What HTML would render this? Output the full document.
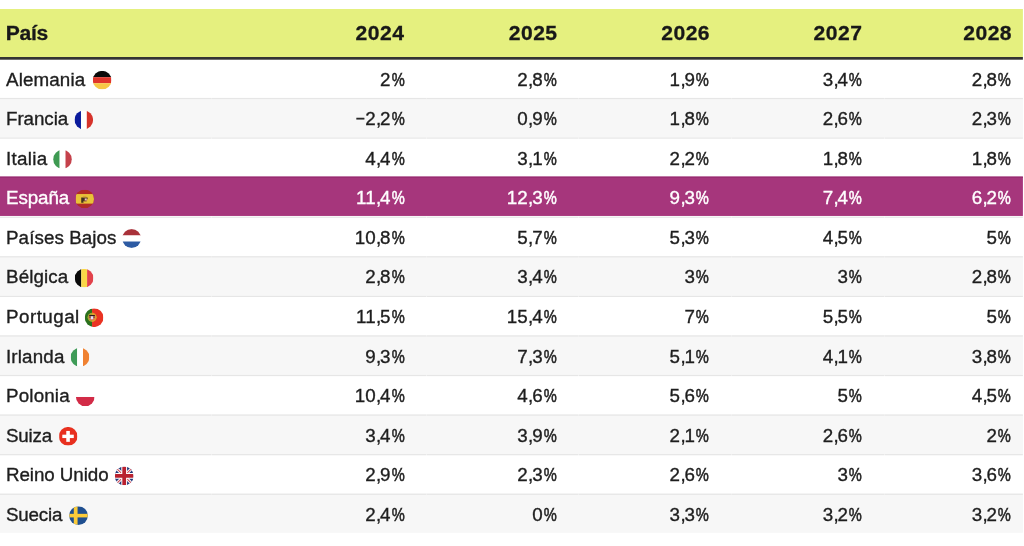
<!DOCTYPE html>
<html lang="es">
<head>
<meta charset="utf-8">
<title>Tabla</title>
<style>
html,body{margin:0;padding:0;background:#fff;}
body{width:1024px;height:546px;position:relative;overflow:hidden;font-family:"Liberation Sans",sans-serif;color:#1e1e1e;}
#bg{position:absolute;left:0;top:0;width:1024px;height:546px;display:block;}
.r,.h{position:absolute;left:0;width:1024px;white-space:nowrap;will-change:transform;}
.r{height:39.575px;line-height:39.575px;font-size:18.8px;-webkit-text-stroke:0.35px currentColor;}
.h{height:48px;line-height:48px;font-size:21.1px;font-weight:bold;color:#181818;-webkit-text-stroke:0.3px currentColor;}
.n{position:absolute;left:6.0px;top:0;}
.h .n{left:5.8px;letter-spacing:-0.33px;}
.h .v{letter-spacing:0.45px;margin-right:-0.45px;}
.v{position:absolute;top:0;text-align:right;}
.hi{color:#fff;}
.f{position:absolute;top:11.39px;width:18.8px;height:18.8px;display:block;}
.p{display:inline-block;-webkit-text-stroke:0.55px currentColor;transform:scaleX(.78);transform-origin:100% 50%;margin-left:-.15em;}
.c{letter-spacing:-.06em;margin-left:.02em;}
.m{display:inline-block;transform:scaleX(.84);transform-origin:100% 50%;margin-left:-.05em;}
</style>
</head>
<body>
<svg id="bg" viewBox="0 0 1024 546">
<rect x="0" y="9" width="1022.9" height="48.3" fill="#E5F07F"/>
<rect x="0" y="57" width="1022.9" height="2.7" fill="#333333"/>
<rect x="0" y="97.90" width="1022.9" height="39.58" fill="#F7F7F7"/>
<rect x="0.00" y="97.90" width="211.10" height="1.2" fill="#E6E6E6"/>
<rect x="211.40" y="97.90" width="214.95" height="1.2" fill="#E6E6E6"/>
<rect x="426.65" y="97.90" width="151.80" height="1.2" fill="#E6E6E6"/>
<rect x="578.75" y="97.90" width="152.30" height="1.2" fill="#E6E6E6"/>
<rect x="731.35" y="97.90" width="152.80" height="1.2" fill="#E6E6E6"/>
<rect x="884.45" y="97.90" width="138.45" height="1.2" fill="#E6E6E6"/>
<rect x="0.00" y="137.47" width="211.10" height="1.2" fill="#E6E6E6"/>
<rect x="211.40" y="137.47" width="214.95" height="1.2" fill="#E6E6E6"/>
<rect x="426.65" y="137.47" width="151.80" height="1.2" fill="#E6E6E6"/>
<rect x="578.75" y="137.47" width="152.30" height="1.2" fill="#E6E6E6"/>
<rect x="731.35" y="137.47" width="152.80" height="1.2" fill="#E6E6E6"/>
<rect x="884.45" y="137.47" width="138.45" height="1.2" fill="#E6E6E6"/>
<rect x="0" y="176.6" width="1022.9" height="39.35" fill="#A6367C"/>
<rect x="0" y="176.6" width="1022.9" height="1.3" fill="#982C70"/>
<rect x="0.00" y="216.62" width="211.10" height="1.2" fill="#E6E6E6"/>
<rect x="211.40" y="216.62" width="214.95" height="1.2" fill="#E6E6E6"/>
<rect x="426.65" y="216.62" width="151.80" height="1.2" fill="#E6E6E6"/>
<rect x="578.75" y="216.62" width="152.30" height="1.2" fill="#E6E6E6"/>
<rect x="731.35" y="216.62" width="152.80" height="1.2" fill="#E6E6E6"/>
<rect x="884.45" y="216.62" width="138.45" height="1.2" fill="#E6E6E6"/>
<rect x="0" y="256.20" width="1022.9" height="39.57" fill="#F7F7F7"/>
<rect x="0.00" y="256.20" width="211.10" height="1.2" fill="#E6E6E6"/>
<rect x="211.40" y="256.20" width="214.95" height="1.2" fill="#E6E6E6"/>
<rect x="426.65" y="256.20" width="151.80" height="1.2" fill="#E6E6E6"/>
<rect x="578.75" y="256.20" width="152.30" height="1.2" fill="#E6E6E6"/>
<rect x="731.35" y="256.20" width="152.80" height="1.2" fill="#E6E6E6"/>
<rect x="884.45" y="256.20" width="138.45" height="1.2" fill="#E6E6E6"/>
<rect x="0.00" y="295.78" width="211.10" height="1.2" fill="#E6E6E6"/>
<rect x="211.40" y="295.78" width="214.95" height="1.2" fill="#E6E6E6"/>
<rect x="426.65" y="295.78" width="151.80" height="1.2" fill="#E6E6E6"/>
<rect x="578.75" y="295.78" width="152.30" height="1.2" fill="#E6E6E6"/>
<rect x="731.35" y="295.78" width="152.80" height="1.2" fill="#E6E6E6"/>
<rect x="884.45" y="295.78" width="138.45" height="1.2" fill="#E6E6E6"/>
<rect x="0" y="335.35" width="1022.9" height="39.58" fill="#F7F7F7"/>
<rect x="0.00" y="335.35" width="211.10" height="1.2" fill="#E6E6E6"/>
<rect x="211.40" y="335.35" width="214.95" height="1.2" fill="#E6E6E6"/>
<rect x="426.65" y="335.35" width="151.80" height="1.2" fill="#E6E6E6"/>
<rect x="578.75" y="335.35" width="152.30" height="1.2" fill="#E6E6E6"/>
<rect x="731.35" y="335.35" width="152.80" height="1.2" fill="#E6E6E6"/>
<rect x="884.45" y="335.35" width="138.45" height="1.2" fill="#E6E6E6"/>
<rect x="0.00" y="374.93" width="211.10" height="1.2" fill="#E6E6E6"/>
<rect x="211.40" y="374.93" width="214.95" height="1.2" fill="#E6E6E6"/>
<rect x="426.65" y="374.93" width="151.80" height="1.2" fill="#E6E6E6"/>
<rect x="578.75" y="374.93" width="152.30" height="1.2" fill="#E6E6E6"/>
<rect x="731.35" y="374.93" width="152.80" height="1.2" fill="#E6E6E6"/>
<rect x="884.45" y="374.93" width="138.45" height="1.2" fill="#E6E6E6"/>
<rect x="0" y="414.50" width="1022.9" height="39.58" fill="#F7F7F7"/>
<rect x="0.00" y="414.50" width="211.10" height="1.2" fill="#E6E6E6"/>
<rect x="211.40" y="414.50" width="214.95" height="1.2" fill="#E6E6E6"/>
<rect x="426.65" y="414.50" width="151.80" height="1.2" fill="#E6E6E6"/>
<rect x="578.75" y="414.50" width="152.30" height="1.2" fill="#E6E6E6"/>
<rect x="731.35" y="414.50" width="152.80" height="1.2" fill="#E6E6E6"/>
<rect x="884.45" y="414.50" width="138.45" height="1.2" fill="#E6E6E6"/>
<rect x="0.00" y="454.07" width="211.10" height="1.2" fill="#E6E6E6"/>
<rect x="211.40" y="454.07" width="214.95" height="1.2" fill="#E6E6E6"/>
<rect x="426.65" y="454.07" width="151.80" height="1.2" fill="#E6E6E6"/>
<rect x="578.75" y="454.07" width="152.30" height="1.2" fill="#E6E6E6"/>
<rect x="731.35" y="454.07" width="152.80" height="1.2" fill="#E6E6E6"/>
<rect x="884.45" y="454.07" width="138.45" height="1.2" fill="#E6E6E6"/>
<rect x="0" y="493.65" width="1022.9" height="39.15" fill="#F7F7F7"/>
<rect x="0.00" y="493.65" width="211.10" height="1.2" fill="#E6E6E6"/>
<rect x="211.40" y="493.65" width="214.95" height="1.2" fill="#E6E6E6"/>
<rect x="426.65" y="493.65" width="151.80" height="1.2" fill="#E6E6E6"/>
<rect x="578.75" y="493.65" width="152.30" height="1.2" fill="#E6E6E6"/>
<rect x="731.35" y="493.65" width="152.80" height="1.2" fill="#E6E6E6"/>
<rect x="884.45" y="493.65" width="138.45" height="1.2" fill="#E6E6E6"/>
<svg x="92.75" y="70.80" width="18.8" height="18.8" viewBox="0 0 100 100"><defs><clipPath id="c-de"><circle cx="50" cy="50" r="50"/></clipPath></defs><g clip-path="url(#c-de)"><rect width="100" height="34" fill="#0a0a0a"/><rect y="34" width="100" height="32" fill="#E0352B"/><rect y="66" width="100" height="34" fill="#F7C845"/></g></svg>
<svg x="74.40" y="110.38" width="18.8" height="18.8" viewBox="0 0 100 100"><defs><clipPath id="c-fr"><circle cx="50" cy="50" r="50"/></clipPath></defs><g clip-path="url(#c-fr)"><rect width="35" height="100" fill="#0B1B9C"/><rect x="35" width="31" height="100" fill="#fff"/><rect x="66" width="34" height="100" fill="#D6332B"/></g></svg>
<svg x="53.10" y="149.95" width="18.8" height="18.8" viewBox="0 0 100 100"><defs><clipPath id="c-it"><circle cx="50" cy="50" r="50"/></clipPath></defs><g clip-path="url(#c-it)"><rect width="35" height="100" fill="#3E9A52"/><rect x="35" width="31" height="100" fill="#fff"/><rect x="66" width="34" height="100" fill="#C5414B"/></g></svg>
<svg x="75.20" y="189.53" width="18.8" height="18.8" viewBox="0 0 100 100"><defs><clipPath id="c-es"><circle cx="50" cy="50" r="50"/></clipPath><clipPath id="k-es"><rect x="2.5" y="0" width="100" height="100"/></clipPath></defs><g clip-path="url(#c-es)"><g clip-path="url(#k-es)"><rect width="100" height="100" fill="#B12B27"/><rect y="24" width="100" height="51" fill="#E8C238"/><path d="M32 43h34v9h-7v11H44v7H32z" fill="#33261c" opacity=".92"/><rect x="50" y="47" width="13" height="13" fill="#c9857a"/><rect x="53" y="49" width="6" height="6" fill="#e8dfe6"/><rect x="41" y="34" width="18" height="7" fill="#d89a3a" opacity=".8"/><rect x="44" y="60" width="18" height="6" fill="#b98a3a" opacity=".6"/></g></g></svg>
<svg x="122.20" y="229.10" width="18.8" height="18.8" viewBox="0 0 100 100"><defs><clipPath id="c-nl"><circle cx="50" cy="50" r="50"/></clipPath></defs><g clip-path="url(#c-nl)"><rect width="100" height="34" fill="#A9323A"/><rect y="34" width="100" height="32" fill="#fff"/><rect y="66" width="100" height="34" fill="#2D5BA3"/></g></svg>
<svg x="74.70" y="268.68" width="18.8" height="18.8" viewBox="0 0 100 100"><defs><clipPath id="c-be"><circle cx="50" cy="50" r="50"/></clipPath></defs><g clip-path="url(#c-be)"><rect width="35" height="100" fill="#0a0a0a"/><rect x="35" width="31" height="100" fill="#FAD748"/><rect x="66" width="34" height="100" fill="#E2424B"/></g></svg>
<svg x="84.70" y="308.25" width="18.8" height="18.8" viewBox="0 0 100 100"><defs><clipPath id="c-pt"><circle cx="50" cy="50" r="50"/></clipPath></defs><g clip-path="url(#c-pt)"><rect width="39" height="100" fill="#2B711D"/><rect x="39" width="61" height="100" fill="#EA3323"/><circle cx="39" cy="48.5" r="24" fill="#A8A22E"/><path d="M39 24.5a24 24 0 0 1 0 48z" fill="#E39A2A"/><path d="M24 36h30v20q-15 16-30 0z" fill="#d9705f"/><rect x="24" y="36" width="30" height="6.5" fill="#2a1a1a"/><rect x="24" y="45.5" width="30" height="4" fill="#5a2a2a"/><path d="M32.5 42.5h12.5v13q-6.2 6-12.5 0z" fill="#dfe3f6"/></g></svg>
<svg x="70.60" y="347.83" width="18.8" height="18.8" viewBox="0 0 100 100"><defs><clipPath id="c-ie"><circle cx="50" cy="50" r="50"/></clipPath></defs><g clip-path="url(#c-ie)"><rect width="35" height="100" fill="#3F9B57"/><rect x="35" width="31" height="100" fill="#fff"/><rect x="66" width="34" height="100" fill="#F08232"/></g></svg>
<svg x="75.90" y="387.40" width="18.8" height="18.8" viewBox="0 0 100 100"><defs><clipPath id="c-pl"><circle cx="50" cy="50" r="50"/></clipPath></defs><g clip-path="url(#c-pl)"><rect width="100" height="51" fill="#fff"/><rect y="51" width="100" height="49" fill="#D22B47"/></g></svg>
<svg x="58.75" y="426.98" width="18.8" height="18.8" viewBox="0 0 100 100"><defs><clipPath id="c-ch"><circle cx="50" cy="50" r="50"/></clipPath><clipPath id="k-ch"><rect x="2.5" y="0" width="100" height="100"/></clipPath></defs><g clip-path="url(#c-ch)"><g clip-path="url(#k-ch)"><rect width="100" height="100" fill="#E8301F"/><rect x="40" y="21" width="19" height="58" fill="#fff"/><rect x="19" y="41" width="61" height="18" fill="#fff"/></g></g></svg>
<svg x="114.80" y="466.55" width="18.8" height="18.8" viewBox="0 0 100 100"><defs><clipPath id="c-gb"><circle cx="50" cy="50" r="50"/></clipPath></defs><g clip-path="url(#c-gb)"><rect width="100" height="100" fill="#213879"/><path d="M0 0L100 100M100 0L0 100" stroke="#fff" stroke-width="16"/><path d="M0 0L100 100M100 0L0 100" stroke="#CF4A55" stroke-width="6"/><path d="M50 0V100M0 50H100" stroke="#fff" stroke-width="31"/><path d="M50 0V100M0 50H100" stroke="#B9212F" stroke-width="20"/></g></svg>
<svg x="69.10" y="506.13" width="18.8" height="18.8" viewBox="0 0 100 100"><defs><clipPath id="c-se"><circle cx="50" cy="50" r="50"/></clipPath></defs><g clip-path="url(#c-se)"><rect width="100" height="100" fill="#1F4F90"/><rect x="25" width="20" height="100" fill="#FBCB3A"/><rect y="41" width="100" height="19" fill="#FBCB3A"/></g></svg>
</svg>
<div class="h" style="top:9.00px"><span class="n">País</span><span class="v" style="right:620.10px">2024</span><span class="v" style="right:466.90px">2025</span><span class="v" style="right:314.40px">2026</span><span class="v" style="right:162.10px">2027</span><span class="v" style="right:12.40px">2028</span></div>
<div class="r" style="top:60px"><span class="n" style="letter-spacing:0.121px">Alemania</span><span class="v" style="right:619.60px">2<span class="p">%</span></span><span class="v" style="right:467.50px">2<span class="c">,</span>8<span class="p">%</span></span><span class="v" style="right:315.20px">1<span class="c">,</span>9<span class="p">%</span></span><span class="v" style="right:162.10px">3<span class="c">,</span>4<span class="p">%</span></span><span class="v" style="right:13.10px">2<span class="c">,</span>8<span class="p">%</span></span></div>
<div class="r" style="top:99px"><span class="n" style="letter-spacing:-0.067px">Francia</span><span class="v" style="right:619.60px"><span class="m">−</span>2<span class="c">,</span>2<span class="p">%</span></span><span class="v" style="right:467.50px">0<span class="c">,</span>9<span class="p">%</span></span><span class="v" style="right:315.20px">1<span class="c">,</span>8<span class="p">%</span></span><span class="v" style="right:162.10px">2<span class="c">,</span>6<span class="p">%</span></span><span class="v" style="right:13.10px">2<span class="c">,</span>3<span class="p">%</span></span></div>
<div class="r" style="top:139px"><span class="n" style="letter-spacing:0.290px">Italia</span><span class="v" style="right:619.60px">4<span class="c">,</span>4<span class="p">%</span></span><span class="v" style="right:467.50px">3<span class="c">,</span>1<span class="p">%</span></span><span class="v" style="right:315.20px">2<span class="c">,</span>2<span class="p">%</span></span><span class="v" style="right:162.10px">1<span class="c">,</span>8<span class="p">%</span></span><span class="v" style="right:13.10px">1<span class="c">,</span>8<span class="p">%</span></span></div>
<div class="r hi" style="top:178px"><span class="n" style="letter-spacing:-0.080px">España</span><span class="v" style="right:619.60px">11<span class="c">,</span>4<span class="p">%</span></span><span class="v" style="right:467.50px">12<span class="c">,</span>3<span class="p">%</span></span><span class="v" style="right:315.20px">9<span class="c">,</span>3<span class="p">%</span></span><span class="v" style="right:162.10px">7<span class="c">,</span>4<span class="p">%</span></span><span class="v" style="right:13.10px">6<span class="c">,</span>2<span class="p">%</span></span></div>
<div class="r" style="top:218px"><span class="n" style="letter-spacing:0.077px">Países Bajos</span><span class="v" style="right:619.60px">10<span class="c">,</span>8<span class="p">%</span></span><span class="v" style="right:467.50px">5<span class="c">,</span>7<span class="p">%</span></span><span class="v" style="right:315.20px">5<span class="c">,</span>3<span class="p">%</span></span><span class="v" style="right:162.10px">4<span class="c">,</span>5<span class="p">%</span></span><span class="v" style="right:13.10px">5<span class="p">%</span></span></div>
<div class="r" style="top:257px"><span class="n" style="letter-spacing:0.100px">Bélgica</span><span class="v" style="right:619.60px">2<span class="c">,</span>8<span class="p">%</span></span><span class="v" style="right:467.50px">3<span class="c">,</span>4<span class="p">%</span></span><span class="v" style="right:315.20px">3<span class="p">%</span></span><span class="v" style="right:162.10px">3<span class="p">%</span></span><span class="v" style="right:13.10px">2<span class="c">,</span>8<span class="p">%</span></span></div>
<div class="r" style="top:297px"><span class="n" style="letter-spacing:0.471px">Portugal</span><span class="v" style="right:619.60px">11<span class="c">,</span>5<span class="p">%</span></span><span class="v" style="right:467.50px">15<span class="c">,</span>4<span class="p">%</span></span><span class="v" style="right:315.20px">7<span class="p">%</span></span><span class="v" style="right:162.10px">5<span class="c">,</span>5<span class="p">%</span></span><span class="v" style="right:13.10px">5<span class="p">%</span></span></div>
<div class="r" style="top:337px"><span class="n" style="letter-spacing:0.150px">Irlanda</span><span class="v" style="right:619.60px">9<span class="c">,</span>3<span class="p">%</span></span><span class="v" style="right:467.50px">7<span class="c">,</span>3<span class="p">%</span></span><span class="v" style="right:315.20px">5<span class="c">,</span>1<span class="p">%</span></span><span class="v" style="right:162.10px">4<span class="c">,</span>1<span class="p">%</span></span><span class="v" style="right:13.10px">3<span class="c">,</span>8<span class="p">%</span></span></div>
<div class="r" style="top:376px"><span class="n" style="letter-spacing:0.167px">Polonia</span><span class="v" style="right:619.60px">10<span class="c">,</span>4<span class="p">%</span></span><span class="v" style="right:467.50px">4<span class="c">,</span>6<span class="p">%</span></span><span class="v" style="right:315.20px">5<span class="c">,</span>6<span class="p">%</span></span><span class="v" style="right:162.10px">5<span class="p">%</span></span><span class="v" style="right:13.10px">4<span class="c">,</span>5<span class="p">%</span></span></div>
<div class="r" style="top:416px"><span class="n" style="letter-spacing:-0.213px">Suiza</span><span class="v" style="right:619.60px">3<span class="c">,</span>4<span class="p">%</span></span><span class="v" style="right:467.50px">3<span class="c">,</span>9<span class="p">%</span></span><span class="v" style="right:315.20px">2<span class="c">,</span>1<span class="p">%</span></span><span class="v" style="right:162.10px">2<span class="c">,</span>6<span class="p">%</span></span><span class="v" style="right:13.10px">2<span class="p">%</span></span></div>
<div class="r" style="top:455px"><span class="n" style="letter-spacing:-0.070px">Reino Unido</span><span class="v" style="right:619.60px">2<span class="c">,</span>9<span class="p">%</span></span><span class="v" style="right:467.50px">2<span class="c">,</span>3<span class="p">%</span></span><span class="v" style="right:315.20px">2<span class="c">,</span>6<span class="p">%</span></span><span class="v" style="right:162.10px">3<span class="p">%</span></span><span class="v" style="right:13.10px">3<span class="c">,</span>6<span class="p">%</span></span></div>
<div class="r" style="top:495px"><span class="n" style="letter-spacing:-0.190px">Suecia</span><span class="v" style="right:619.60px">2<span class="c">,</span>4<span class="p">%</span></span><span class="v" style="right:467.50px">0<span class="p">%</span></span><span class="v" style="right:315.20px">3<span class="c">,</span>3<span class="p">%</span></span><span class="v" style="right:162.10px">3<span class="c">,</span>2<span class="p">%</span></span><span class="v" style="right:13.10px">3<span class="c">,</span>2<span class="p">%</span></span></div>
</body>
</html>
